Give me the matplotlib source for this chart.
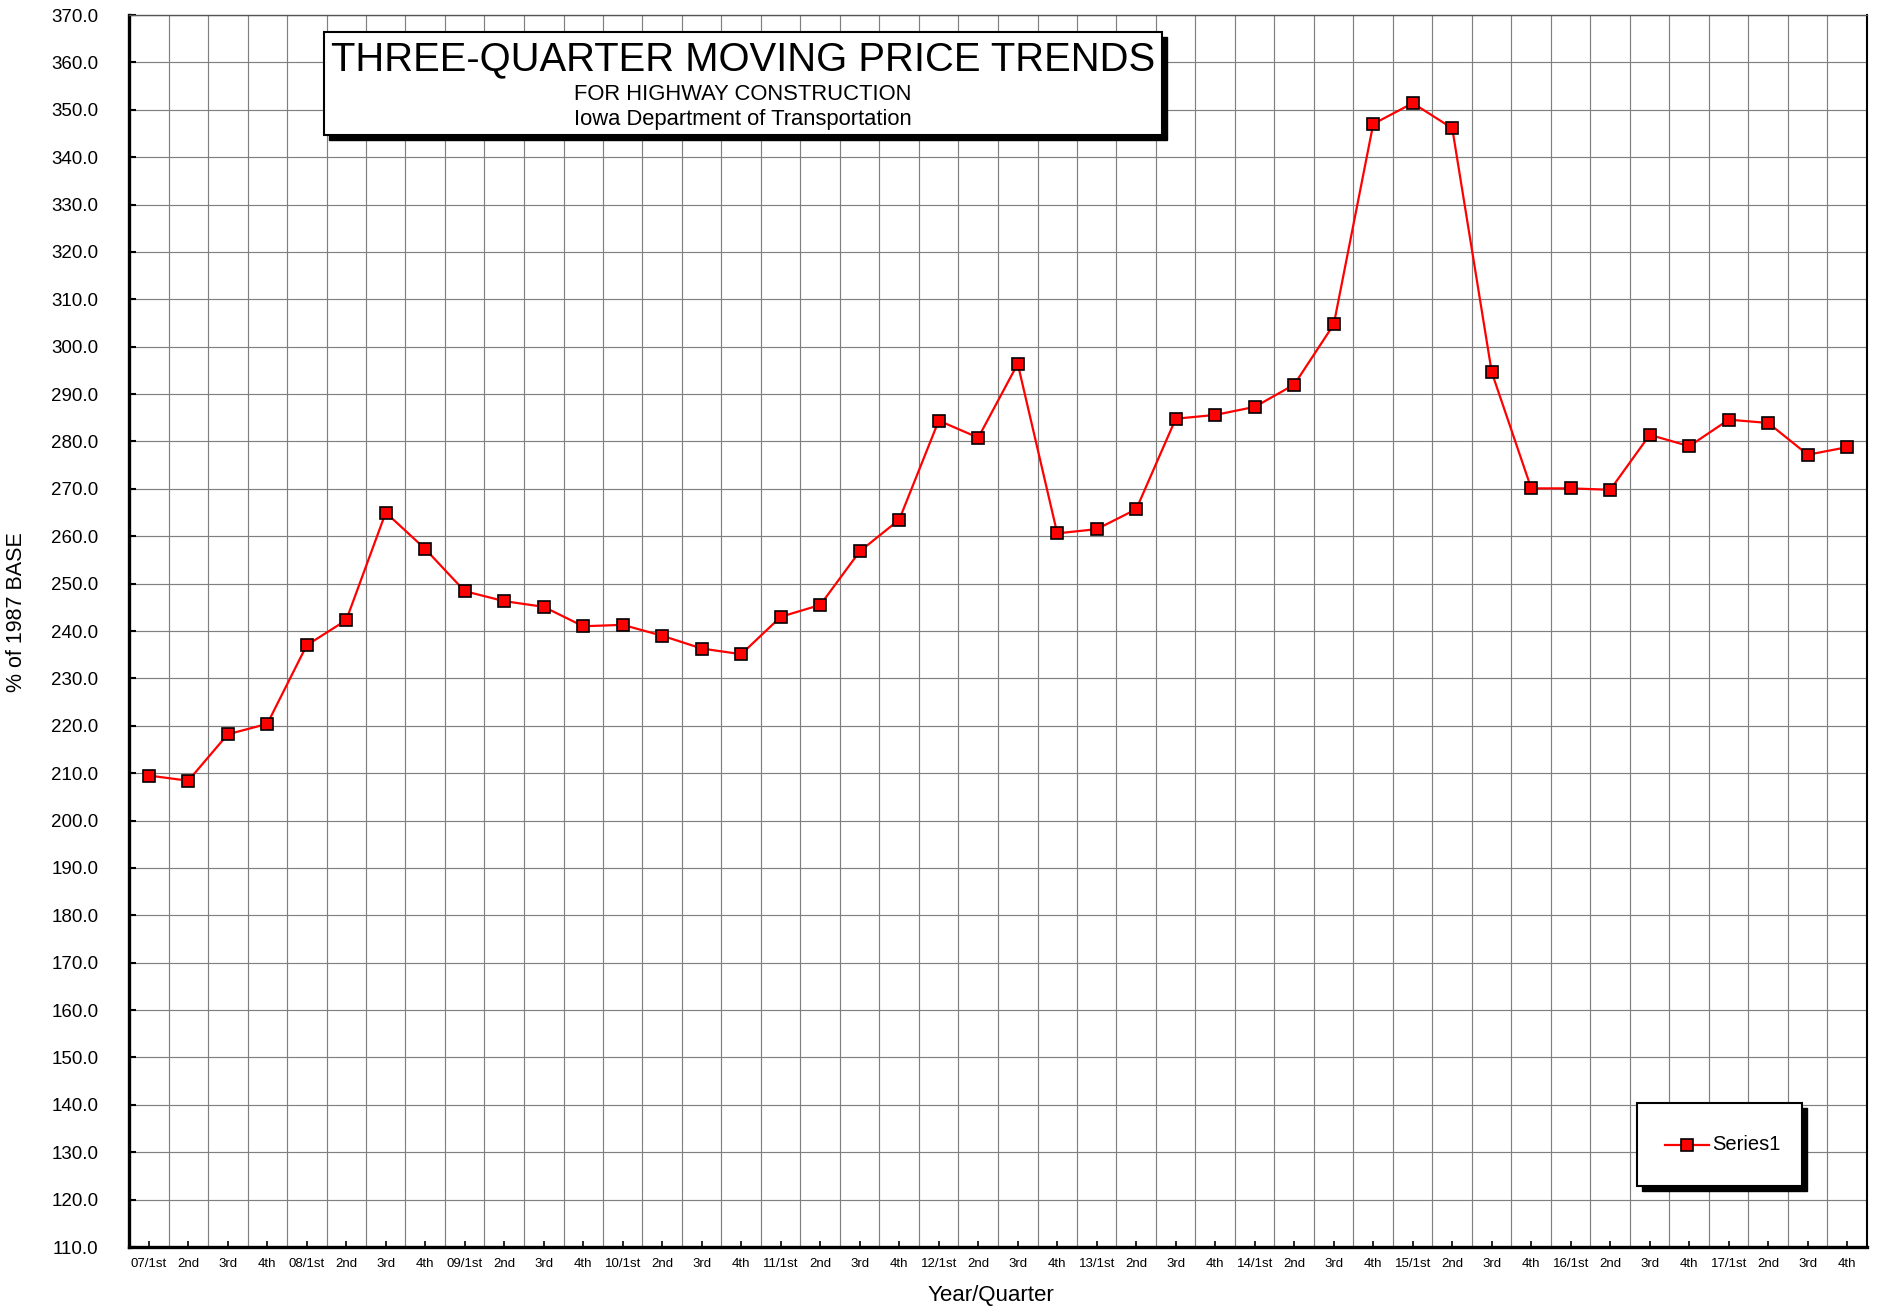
import matplotlib
matplotlib.use("Agg")
import matplotlib.pyplot as plt
from matplotlib.patches import Rectangle
from matplotlib.lines import Line2D
from matplotlib.ticker import MultipleLocator, FixedLocator

plt.rcParams['font.family'] = ['Liberation Sans', 'DejaVu Sans']

# ---- data ----
years = ["07", "08", "09", "10", "11", "12", "13", "14", "15", "16", "17"]
quarters = ["1st", "2nd", "3rd", "4th"]
categories = []
for yy in years:
    for q in quarters:
        categories.append(f"{yy}/1st" if q == "1st" else q)

values = [
    209.5, 208.4, 218.2, 220.4,
    237.0, 242.3, 265.0, 257.3,
    248.4, 246.3, 245.1, 241.0,
    241.3, 239.0, 236.3, 235.1,
    243.0, 245.5, 256.8, 263.5,
    284.4, 280.8, 296.4, 260.6,
    261.5, 265.7, 284.8, 285.6,
    287.3, 292.0, 304.7, 347.0,
    351.4, 346.1, 294.6, 270.1,
    270.1, 269.8, 281.4, 279.0,
    284.6, 283.9, 277.2, 278.8,
]
series_name = "Series1"
title_main = "THREE-QUARTER MOVING PRICE TRENDS"
title_sub1 = "FOR HIGHWAY CONSTRUCTION"
title_sub2 = "Iowa Department of Transportation"

W, H = 1881, 1315
fig = plt.figure(figsize=(W / 100, H / 100), dpi=100)
fig.patch.set_facecolor("white")

def fx(px):
    return px / W

def fy(py):
    return 1 - py / H

ax_l, ax_r, ax_t, ax_b = 129, 1867, 15, 1247
ax = fig.add_axes([fx(ax_l), fy(ax_b), fx(ax_r - ax_l), (ax_b - ax_t) / H])

x = list(range(len(values)))
ax.plot(x, values, color="#ff0000", lw=1.6, marker="s", markersize=8,
        markerfacecolor="#ff0000", markeredgecolor="black", markeredgewidth=1.2,
        zorder=5, clip_on=False)

ax.set_xlim(-0.5, len(values) - 0.5)
ax.set_ylim(110, 370)
ax.set_yticks([110 + 10 * i for i in range(27)])
ax.set_yticklabels([f"{110 + 10 * i:.1f}" for i in range(27)], fontsize=13.5)

ax.set_xticks(x)
ax.set_xticklabels(categories, fontsize=9.5)
ax.xaxis.set_minor_locator(FixedLocator([i + 0.5 for i in range(-1, len(values))]))

ax.tick_params(axis="x", which="major", direction="in", length=4, width=1.2,
               pad=8, colors="black")
ax.tick_params(axis="x", which="minor", length=0)
ax.tick_params(axis="y", which="major", direction="in", length=5, width=1.5,
               pad=22, colors="black")

ax.grid(True, axis="y", which="major", color="#808080", lw=0.85)
ax.grid(True, axis="x", which="minor", color="#808080", lw=0.85)
ax.grid(False, axis="x", which="major")
ax.set_axisbelow(True)

ax.spines["left"].set_linewidth(2.4)
ax.spines["bottom"].set_linewidth(2.4)
ax.spines["right"].set_linewidth(1.5)
ax.spines["top"].set_linewidth(1.0)
ax.spines["top"].set_color("#555555")

fig.text(fx(991), fy(1296), "Year/Quarter", fontsize=16, ha="center", va="center")
fig.text(fx(17), fy(612), "% of 1987 BASE", fontsize=15.5, ha="center",
         va="center", rotation=90)

# ---- title box with shadow ----
bx0, by0, bx1, by1 = 324, 32, 1162, 135
sh = 5
fig.patches.append(Rectangle((fx(bx0 + sh), fy(by1 + sh)), fx(bx1 - bx0), (by1 - by0) / H,
                             transform=fig.transFigure, facecolor="black",
                             edgecolor="black", zorder=10))
fig.patches.append(Rectangle((fx(bx0), fy(by1)), fx(bx1 - bx0), (by1 - by0) / H,
                             transform=fig.transFigure, facecolor="white",
                             edgecolor="black", lw=1.5, zorder=11))
cx = (bx0 + bx1) / 2
fig.text(fx(cx), fy(59), title_main, fontsize=28.8, ha="center", va="center", zorder=12)
fig.text(fx(cx), fy(94), title_sub1, fontsize=15.8, ha="center", va="center", zorder=12)
fig.text(fx(cx), fy(119), title_sub2, fontsize=15.8, ha="center", va="center", zorder=12)

# ---- legend box with shadow ----
lx0, ly0, lx1, ly1 = 1637, 1103, 1802, 1186
fig.patches.append(Rectangle((fx(lx0 + sh), fy(ly1 + sh)), fx(lx1 - lx0), (ly1 - ly0) / H,
                             transform=fig.transFigure, facecolor="black",
                             edgecolor="black", zorder=10))
fig.patches.append(Rectangle((fx(lx0), fy(ly1)), fx(lx1 - lx0), (ly1 - ly0) / H,
                             transform=fig.transFigure, facecolor="white",
                             edgecolor="black", lw=1.5, zorder=11))
fig.lines.append(Line2D([fx(1665), fx(1709)], [fy(1145), fy(1145)],
                        transform=fig.transFigure, color="#ff0000", lw=1.6, zorder=12))
fig.lines.append(Line2D([fx(1687)], [fy(1145)], transform=fig.transFigure,
                        marker="s", markersize=8, markerfacecolor="#ff0000",
                        markeredgecolor="black", markeredgewidth=1.2, lw=0, zorder=13))
fig.text(fx(1712), fy(1145), series_name, fontsize=14.5, ha="left", va="center", zorder=12)

fig.savefig("out.png", dpi=100)
